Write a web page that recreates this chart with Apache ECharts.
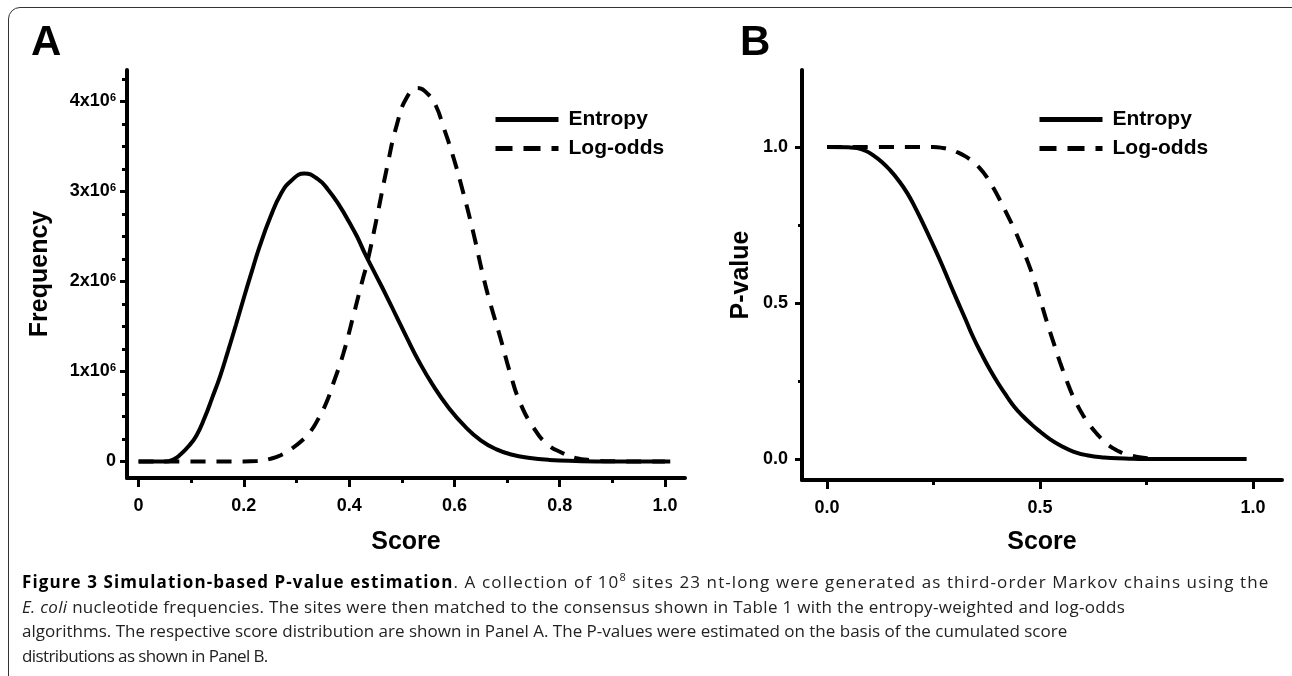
<!DOCTYPE html>
<html>
<head>
<meta charset="utf-8">
<script src="https://cdn.jsdelivr.net/npm/echarts@6/dist/echarts.min.js"></script>
<style>
  html, body { margin: 0; padding: 0; background: #fff; }
  #wrap { position: relative; width: 1292px; height: 676px; overflow: hidden; background: #fff; }
  #chart { position: absolute; left: 0; top: 0; width: 1292px; height: 676px; }
  #frame { position: absolute; left: 8px; top: 7px; width: 1310px; height: 700px; border: 1px solid #333; border-radius: 12px; box-sizing: border-box; pointer-events: none; }
  #caption { position: absolute; left: 22px; top: 570px; width: 1265px; font-family: "Open Sans", sans-serif; font-size: 17px; line-height: 24.5px; color: #222; white-space: nowrap; }
  #caption b { color: #000; }
  #caption div { height: 24.5px; }
</style>
</head>
<body>
<div id="wrap">
  <div id="chart"></div>
  <div id="frame"></div>
  <div id="caption">
    <div style="letter-spacing:1.1px"><b>Figure 3 Simulation-based P-value estimation</b>. A collection of 10<sup style="font-size:11px;line-height:0">8</sup> sites 23 nt-long were generated as third-order Markov chains using the</div>
    <div style="letter-spacing:0.3px"><i>E. coli</i> nucleotide frequencies. The sites were then matched to the consensus shown in Table 1 with the entropy-weighted and log-odds</div>
    <div>algorithms. The respective score distribution are shown in Panel A. The P-values were estimated on the basis of the cumulated score</div>
    <div style="letter-spacing:-0.6px">distributions as shown in Panel B.</div>
  </div>
</div>
<script>
// ---------- Data ----------
// Panel A: score distribution (Frequency, in units of 1e6)
const entropyA_x = [0, 0.05, 0.065, 0.08, 0.095, 0.11, 0.125, 0.14, 0.155, 0.17, 0.185, 0.2, 0.215, 0.23, 0.25, 0.27, 0.29, 0.315, 0.34, 0.36, 0.383, 0.40, 0.415, 0.43, 0.45, 0.47, 0.49, 0.51, 0.53, 0.56, 0.59, 0.62, 0.65, 0.68, 0.71, 0.74, 0.78, 0.83, 0.9, 1.01];
const entropyA_y = [0, 0, 0.02, 0.08, 0.17, 0.29, 0.48, 0.71, 0.95, 1.23, 1.52, 1.82, 2.11, 2.39, 2.71, 2.97, 3.12, 3.20, 3.14, 3.02, 2.83, 2.66, 2.50, 2.31, 2.08, 1.85, 1.61, 1.37, 1.14, 0.84, 0.59, 0.39, 0.235, 0.135, 0.075, 0.042, 0.018, 0.006, 0, 0];
const logoddsA_x = [0, 0.2, 0.225, 0.25, 0.27, 0.29, 0.31, 0.326, 0.34, 0.355, 0.37, 0.389, 0.408, 0.427, 0.434, 0.453, 0.472, 0.491, 0.51, 0.53, 0.55, 0.565, 0.579, 0.598, 0.617, 0.636, 0.655, 0.668, 0.687, 0.706, 0.725, 0.75, 0.775, 0.807, 0.83, 0.86, 0.9, 1.0];
const logoddsA_y = [0, 0, 0.005, 0.03, 0.07, 0.14, 0.23, 0.33, 0.46, 0.63, 0.87, 1.2, 1.62, 2.05, 2.2, 2.72, 3.27, 3.75, 4.05, 4.15, 4.08, 3.95, 3.72, 3.38, 2.98, 2.54, 2.05, 1.76, 1.38, 0.98, 0.65, 0.38, 0.2, 0.09, 0.04, 0.015, 0.003, 0];

// Panel B: P-value
const entropyB_x = [0, 0.05, 0.07, 0.09, 0.108, 0.128, 0.148, 0.168, 0.188, 0.207, 0.225, 0.245, 0.265, 0.285, 0.305, 0.325, 0.343, 0.363, 0.383, 0.402, 0.422, 0.44, 0.46, 0.48, 0.5, 0.523, 0.55, 0.578, 0.61, 0.65, 0.7, 0.75, 0.985];
const entropyB_y = [1.0, 0.999, 0.997, 0.988, 0.974, 0.953, 0.926, 0.893, 0.853, 0.806, 0.756, 0.698, 0.638, 0.574, 0.51, 0.448, 0.391, 0.336, 0.285, 0.242, 0.201, 0.167, 0.137, 0.111, 0.088, 0.064, 0.042, 0.024, 0.012, 0.005, 0.002, 0, 0];
const logoddsB_x = [0, 0.25, 0.272, 0.29, 0.305, 0.325, 0.343, 0.36, 0.375, 0.39, 0.406, 0.421, 0.437, 0.453, 0.469, 0.485, 0.5, 0.516, 0.532, 0.547, 0.57, 0.585, 0.601, 0.617, 0.634, 0.652, 0.671, 0.69, 0.711, 0.742, 0.78, 0.82];
const logoddsB_y = [1, 1, 0.997, 0.991, 0.984, 0.97, 0.952, 0.93, 0.904, 0.87, 0.83, 0.789, 0.744, 0.695, 0.64, 0.579, 0.513, 0.44, 0.372, 0.31, 0.225, 0.18, 0.14, 0.108, 0.08, 0.055, 0.035, 0.021, 0.012, 0.004, 0, 0];

// Ticks
const ticksA_x = [0, 0.2, 0.4, 0.6, 0.8, 1.0];
const minorA_x = [0.1, 0.3, 0.5, 0.7, 0.9];
const ticksA_y = [0, 1e6, 2e6, 3e6, 4e6];
const minorA_y = [0.25e6, 0.5e6, 0.75e6, 1.25e6, 1.5e6, 1.75e6, 2.25e6, 2.5e6, 2.75e6, 3.25e6, 3.5e6, 3.75e6, 4.25e6];
const ticksB_x = [0, 0.5, 1.0];
const minorB_x = [0.25, 0.75];
const ticksB_y = [0, 0.5, 1.0];
const minorB_y = [0.25, 0.75];

const seriesNames = ['Entropy', 'Log-odds'];
const panelTitles = ['A', 'B'];
const xName = 'Score';
const yNames = ['Frequency', 'P-value'];

// ---------- Build ----------
const pairs = (xs, ys, scale) => xs.map((x, i) => [x, ys[i] * (scale || 1)]);
const FONT = '"Liberation Sans", Arial, sans-serif';
const AXC = '#000';
const SMOOTH = 0.5;

function mainAxis(grid, pos, min, max, ticks, fmt, extra) {
  return Object.assign({
    type: 'value', gridIndex: grid, position: pos, min: min, max: max,
    splitLine: { show: false },
    axisLine: { show: true, onZero: false, lineStyle: { color: AXC, width: 4 } },
    axisTick: { show: true, customValues: ticks, length: 9, lineStyle: { color: AXC, width: 3 } },
    axisLabel: { customValues: ticks, formatter: fmt, color: '#000', fontSize: 18, fontWeight: 'bold', fontFamily: FONT },
    nameTextStyle: { color: '#000', fontSize: 25, fontWeight: 'bold', fontFamily: FONT }
  }, extra);
}
function minorAxis(grid, pos, min, max, ticks, len) {
  return {
    type: 'value', gridIndex: grid, position: pos, offset: 0, min: min, max: max,
    splitLine: { show: false },
    axisLine: { show: false, onZero: false },
    axisTick: { show: true, customValues: ticks, length: len, lineStyle: { color: AXC, width: 3 } },
    axisLabel: { show: false }
  };
}

const fmtDec = v => v.toFixed(1);
const fmtA_x = v => (v === 0 ? '0' : v.toFixed(1));
const fmtA_y = v => (v === 0 ? '0' : (v / 1e6) + 'x10{sup|6}');

const chart = echarts.init(document.getElementById('chart'), null, { renderer: 'canvas' });

const AX_MIN = -0.022, AX_MAX = 1.038, AY_MIN = -0.183e6, AY_MAX = 4.35e6;
const BX_MIN = -0.0587, BX_MAX = 1.068, BY_MIN = -0.0673, BY_MAX = 1.247;

const legendCommon = {
  orient: 'vertical', itemWidth: 63, itemHeight: 14, itemGap: 8,
  textStyle: { color: '#000', fontSize: 21, fontWeight: 'bold', fontFamily: FONT, lineHeight: 21, padding: [0, 0, 0, 5] },
  itemStyle: { color: 'rgba(0,0,0,0)', borderWidth: 0, opacity: 0 },
  selectedMode: false,
  data: [
    { name: seriesNames[0], lineStyle: { width: 5, type: 'solid', color: '#000' } },
    { name: seriesNames[1], lineStyle: { width: 5, type: [17, 11], color: '#000' } }
  ]
};

const option = {
  animation: false,
  backgroundColor: '#fff',
  title: [
    { text: panelTitles[0], left: 26, top: 17, textStyle: { fontSize: 42, fontWeight: 'bold', color: '#000', fontFamily: FONT } },
    { text: panelTitles[1], left: 735, top: 17, textStyle: { fontSize: 42, fontWeight: 'bold', color: '#000', fontFamily: FONT } }
  ],
  legend: [
    Object.assign({ left: 488, top: 104 }, legendCommon),
    Object.assign({ left: 1032, top: 104 }, legendCommon)
  ],
  grid: [
    { left: 127, top: 70, width: 558, height: 408 },
    { left: 802, top: 70, width: 480, height: 410 }
  ],
  xAxis: [
    mainAxis(0, 'bottom', AX_MIN, AX_MAX, ticksA_x, fmtA_x, { axisLabel: { customValues: ticksA_x, formatter: fmtA_x, color: '#000', fontSize: 18, fontWeight: 'bold', fontFamily: FONT, margin: 19 }, name: xName, nameLocation: 'middle', nameGap: 52 }),
    minorAxis(0, 'bottom', AX_MIN, AX_MAX, minorA_x, 5),
    mainAxis(1, 'bottom', BX_MIN, BX_MAX, ticksB_x, fmtDec, { axisLabel: { customValues: ticksB_x, formatter: fmtDec, color: '#000', fontSize: 18, fontWeight: 'bold', fontFamily: FONT, margin: 19 }, name: xName, nameLocation: 'middle', nameGap: 50 }),
    minorAxis(1, 'bottom', BX_MIN, BX_MAX, minorB_x, 5)
  ],
  yAxis: [
    mainAxis(0, 'left', AY_MIN, AY_MAX, ticksA_y, fmtA_y, {
      axisLabel: { customValues: ticksA_y, formatter: fmtA_y, color: '#000', fontSize: 18, fontWeight: 'bold', fontFamily: FONT, margin: 11,
        rich: { sup: { fontSize: 11, fontWeight: 'bold', fontFamily: FONT, color: '#000', verticalAlign: 'top', lineHeight: 18 } } },
      axisTick: { show: true, customValues: ticksA_y, length: 7, lineStyle: { color: AXC, width: 3 } },
      name: yNames[0], nameLocation: 'middle', nameGap: 74 }),
    minorAxis(0, 'left', AY_MIN, AY_MAX, minorA_y, 5),
    mainAxis(1, 'left', BY_MIN, BY_MAX, ticksB_y, fmtDec, {
      axisLabel: { customValues: ticksB_y, formatter: fmtDec, color: '#000', fontSize: 18, fontWeight: 'bold', fontFamily: FONT, margin: 14 },
      axisTick: { show: true, customValues: ticksB_y, length: 7, lineStyle: { color: AXC, width: 3 } },
      name: yNames[1], nameLocation: 'middle', nameGap: 48 }),
    minorAxis(1, 'left', BY_MIN, BY_MAX, minorB_y, 4)
  ],
  series: [
    { name: seriesNames[1], type: 'line', xAxisIndex: 0, yAxisIndex: 0, data: pairs(logoddsA_x, logoddsA_y, 1e6), smooth: SMOOTH, symbol: 'none', lineStyle: { color: '#000', width: 4, type: [15, 11] }, itemStyle: { color: '#000' } },
    { name: seriesNames[0], type: 'line', xAxisIndex: 0, yAxisIndex: 0, data: pairs(entropyA_x, entropyA_y, 1e6), smooth: SMOOTH, symbol: 'none', lineStyle: { color: '#000', width: 4 }, itemStyle: { color: '#000' } },
    { name: seriesNames[1], type: 'line', xAxisIndex: 2, yAxisIndex: 2, data: pairs(logoddsB_x, logoddsB_y), smooth: SMOOTH, symbol: 'none', lineStyle: { color: '#000', width: 4, type: [15, 11] }, itemStyle: { color: '#000' } },
    { name: seriesNames[0], type: 'line', xAxisIndex: 2, yAxisIndex: 2, data: pairs(entropyB_x, entropyB_y), smooth: SMOOTH, symbol: 'none', lineStyle: { color: '#000', width: 4 }, itemStyle: { color: '#000' } }
  ]
};
chart.setOption(option);
</script>
</body>
</html>
